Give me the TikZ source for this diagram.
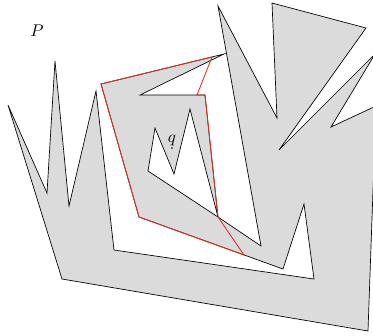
\documentclass[tikz,border=0pt]{standalone}
\usepackage{amsmath}
\usepackage{amssymb}
\usepackage{tikz}
\usepackage{xcolor}
\definecolor{visred}{RGB}{225,45,30}

\begin{document}
\begin{tikzpicture}[x=0.0208cm,y=-0.0208cm]
\useasboundingbox (0,0) rectangle (373,335);
\clip (0,0) rectangle (373,335);
\filldraw[fill=black!14,draw=black,even odd rule,line join=miter] (8,105) -- (62,279) -- (368,331) -- (376,106) -- (331,127) -- (375,54) -- (279,150) -- (366,28) -- (272,3) -- (277,118) -- (218,6) -- (261,246) -- (218,217) -- (148,171) -- (155,128) -- (174,174) -- (190,109) -- (218,217) -- (205,95) -- (140,95) -- (224,54) -- (101,84) -- (139,217) -- (283,269) -- (304,204) -- (314,279) -- (114,250) -- (96,91) -- (69,206) -- (55,61) -- (47,193) -- cycle;
\draw[visred,line width=0.5pt] (101,84) -- (212,57) -- (197,95) -- (205,95) -- (218,217) -- (244,255) -- (139,217) -- cycle;
\coordinate (q) at (172,148);
\fill (q) circle (0.9);
\node (labelq) at (172,140.5) {$q$};
\node (labelP) at (37,31) {$P$};
\end{tikzpicture}
\end{document}
